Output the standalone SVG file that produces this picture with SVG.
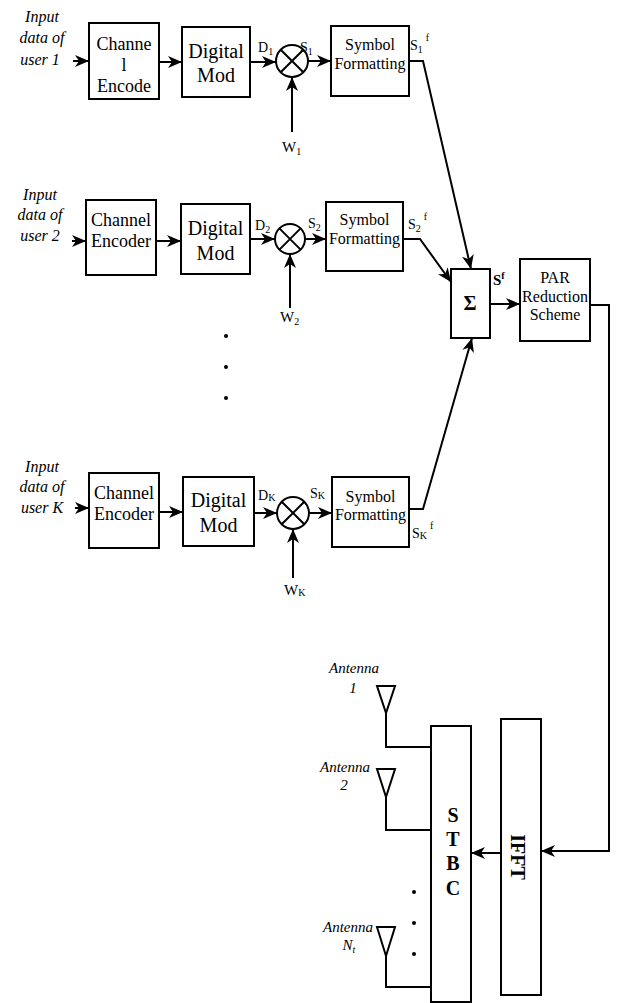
<svg xmlns="http://www.w3.org/2000/svg" width="617" height="1003" viewBox="0 0 617 1003">
<style>
text{font-family:"Liberation Serif","Times New Roman",serif;fill:#000}
.box{fill:#fff;stroke:#000;stroke-width:2}
.ln{fill:none;stroke:#000;stroke-width:2}
.in{font-size:16px;font-style:italic;text-anchor:middle}
.ce{font-size:18px;text-anchor:middle}
.dm{font-size:20px;text-anchor:middle}
.sf{font-size:16px;text-anchor:middle}
.lb{font-size:14px}
.wl{font-size:15px}
.ant{font-size:15px;font-style:italic;text-anchor:middle}
.bd{font-size:20px;font-weight:bold;text-anchor:middle}
.dot{fill:#000}
</style>
<defs>
<marker id="ah" viewBox="0 0 14 12" markerWidth="14" markerHeight="12" refX="14" refY="6" orient="auto" markerUnits="userSpaceOnUse">
<path d="M0,0 L14,6 L0,12 L4,6 z" fill="#000"/>
</marker>
</defs>

<g id="input1"><text class="in" x="42" y="22">Input</text><text class="in" x="42" y="43">data of</text><text class="in" x="40" y="65">user 1</text></g>
<g id="enc1"><rect class="box" x="89" y="23" width="70" height="76"/><text class="ce" x="124" y="50">Channe</text><text class="ce" x="124" y="71">l</text><text class="ce" x="124" y="92">Encode</text></g>
<g id="mod1"><rect class="box" x="182" y="27" width="68" height="70"/><text class="dm" x="216" y="58">Digital</text><text class="dm" x="216" y="82">Mod</text></g>
<g id="mult1"><circle class="ln" cx="292" cy="61" r="16"/><path class="ln" d="M280.7,49.7 L303.3,72.3 M303.3,49.7 L280.7,72.3"/></g>
<g id="sf1"><rect class="box" x="331" y="26" width="78" height="70"/><text class="sf" x="370" y="50">Symbol</text><text class="sf" x="370" y="69">Formatting</text></g>

<g id="input2"><text class="in" x="40" y="200">Input</text><text class="in" x="40" y="220">data of</text><text class="in" x="40" y="241">user 2</text></g>
<g id="enc2"><rect class="box" x="86" y="200" width="70" height="75"/><text class="ce" x="121" y="226">Channel</text><text class="ce" x="121" y="247">Encoder</text></g>
<g id="mod2"><rect class="box" x="181" y="204" width="69" height="70"/><text class="dm" x="215.5" y="235">Digital</text><text class="dm" x="215.5" y="260">Mod</text></g>
<g id="mult2"><circle class="ln" cx="290" cy="239" r="15"/><path class="ln" d="M279.4,228.4 L300.6,249.6 M300.6,228.4 L279.4,249.6"/></g>
<g id="sf2"><rect class="box" x="326" y="202" width="77" height="69"/><text class="sf" x="364.5" y="225">Symbol</text><text class="sf" x="364.5" y="244">Formatting</text></g>

<g id="dots1"><circle class="dot" cx="226" cy="336" r="2"/><circle class="dot" cx="226" cy="367" r="2"/><circle class="dot" cx="226" cy="398" r="2"/></g>

<g id="inputK"><text class="in" x="42" y="472">Input</text><text class="in" x="42" y="492">data of</text><text class="in" x="42" y="513">user K</text></g>
<g id="encK"><rect class="box" x="89" y="473" width="70" height="75"/><text class="ce" x="124" y="499">Channel</text><text class="ce" x="124" y="520">Encoder</text></g>
<g id="modK"><rect class="box" x="183" y="477" width="71" height="69"/><text class="dm" x="218.5" y="507">Digital</text><text class="dm" x="218.5" y="532">Mod</text></g>
<g id="multK"><circle class="ln" cx="293" cy="513" r="16"/><path class="ln" d="M281.7,501.7 L304.3,524.3 M304.3,501.7 L281.7,524.3"/></g>
<g id="sfK"><rect class="box" x="332" y="477" width="77" height="70"/><text class="sf" x="370.5" y="502">Symbol</text><text class="sf" x="370.5" y="520">Formatting</text></g>

<g id="sum"><rect class="box" x="451" y="269" width="39" height="69"/><text class="bd" x="470" y="310">Σ</text></g>
<g id="par"><rect class="box" x="520" y="259" width="70" height="82"/><text class="sf" x="555" y="283">PAR</text><text class="sf" x="555" y="302">Reduction</text><text class="sf" x="555" y="320">Scheme</text></g>
<g id="ifft"><rect class="box" x="501" y="719" width="40" height="276"/><text class="bd" transform="translate(518,857) rotate(90)" dy="7">IFFT</text></g>
<g id="stbc"><rect class="box" x="431" y="726" width="40" height="276"/><text class="bd" x="453" y="822">S</text><text class="bd" x="453" y="846">T</text><text class="bd" x="453" y="870">B</text><text class="bd" x="453" y="895">C</text></g>

<g id="ant1"><path class="ln" d="M377,686 L395,686 L386,713 z"/><text class="ant" x="354" y="673">Antenna</text><text class="ant" x="353" y="693">1</text></g>
<g id="ant2"><path class="ln" d="M377,769 L395,769 L386,797 z"/><text class="ant" x="345" y="772">Antenna</text><text class="ant" x="344" y="790">2</text></g>
<g id="antN"><path class="ln" d="M377,927 L395,927 L386,956 z"/><text class="ant" x="348" y="932">Antenna</text><text class="ant" x="349" y="950">N<tspan font-size="10" dy="3">t</tspan></text></g>
<g id="dots2"><circle class="dot" cx="414" cy="892" r="2"/><circle class="dot" cx="414" cy="923" r="2"/><circle class="dot" cx="414" cy="954" r="2"/></g>

<g id="connectors" class="ln">
<path class="ln" d="M73,61 L89,61" marker-end="url(#ah)"/>
<path class="ln" d="M159,62 L182,62" marker-end="url(#ah)"/>
<path class="ln" d="M250,62 L276,62" marker-end="url(#ah)"/>
<path class="ln" d="M308,61 L331,61" marker-end="url(#ah)"/>
<path class="ln" d="M292,132 L292,77" marker-end="url(#ah)"/>
<path class="ln" d="M409,61 L423,61 L471,269" marker-end="url(#ah)"/>

<path class="ln" d="M72,241 L86,241" marker-end="url(#ah)"/>
<path class="ln" d="M156,241 L181,241" marker-end="url(#ah)"/>
<path class="ln" d="M250,239 L275,239" marker-end="url(#ah)"/>
<path class="ln" d="M305,239 L326,239" marker-end="url(#ah)"/>
<path class="ln" d="M290,308 L290,254" marker-end="url(#ah)"/>
<path class="ln" d="M403,239 L420,239 L451,282" marker-end="url(#ah)"/>

<path class="ln" d="M75,508 L89,508" marker-end="url(#ah)"/>
<path class="ln" d="M159,512 L183,512" marker-end="url(#ah)"/>
<path class="ln" d="M254,513 L277,513" marker-end="url(#ah)"/>
<path class="ln" d="M309,513 L332,513" marker-end="url(#ah)"/>
<path class="ln" d="M293,578 L293,529" marker-end="url(#ah)"/>
<path class="ln" d="M409,509 L423,509 L472,338" marker-end="url(#ah)"/>

<path class="ln" d="M490,304 L520,304" marker-end="url(#ah)"/>
<path class="ln" d="M590,305 L609,305 L609,851 L541,851" marker-end="url(#ah)"/>
<path class="ln" d="M501,853 L471,853" marker-end="url(#ah)"/>

<path class="ln" d="M386,713 L386,747 L431,747"/>
<path class="ln" d="M386,797 L386,830 L431,830"/>
<path class="ln" d="M386,956 L386,987 L431,987"/>
</g>

<g id="labels">
<text class="lb" x="258" y="52">D<tspan font-size="10" dy="3">1</tspan></text>
<text class="lb" x="300" y="52">S<tspan font-size="10" dy="3">1</tspan></text>
<text class="wl" x="282" y="152">W<tspan font-size="10" dy="3">1</tspan></text>
<text class="lb" x="410" y="50">S<tspan font-size="10" dy="3">1</tspan><tspan font-size="10" dx="3" dy="-12">f</tspan></text>

<text class="lb" x="255" y="230">D<tspan font-size="10" dy="3">2</tspan></text>
<text class="lb" x="308" y="228">S<tspan font-size="10" dy="3">2</tspan></text>
<text class="wl" x="280" y="322">W<tspan font-size="10" dy="3">2</tspan></text>
<text class="lb" x="408" y="229">S<tspan font-size="10" dy="3">2</tspan><tspan font-size="10" dx="3" dy="-12">f</tspan></text>

<text class="lb" x="258" y="500">D<tspan font-size="10" dy="1">K</tspan></text>
<text class="lb" x="310" y="498">S<tspan font-size="10" dy="1">K</tspan></text>
<text class="wl" x="284" y="595">W<tspan font-size="10" dy="1">K</tspan></text>
<text class="lb" x="412" y="538">S<tspan font-size="10" dy="1">K</tspan><tspan font-size="10" dx="3" dy="-10">f</tspan></text>

<text x="493" y="285" font-size="15" font-weight="bold">S<tspan font-size="10" dy="-6">f</tspan></text>
</g>
</svg>
